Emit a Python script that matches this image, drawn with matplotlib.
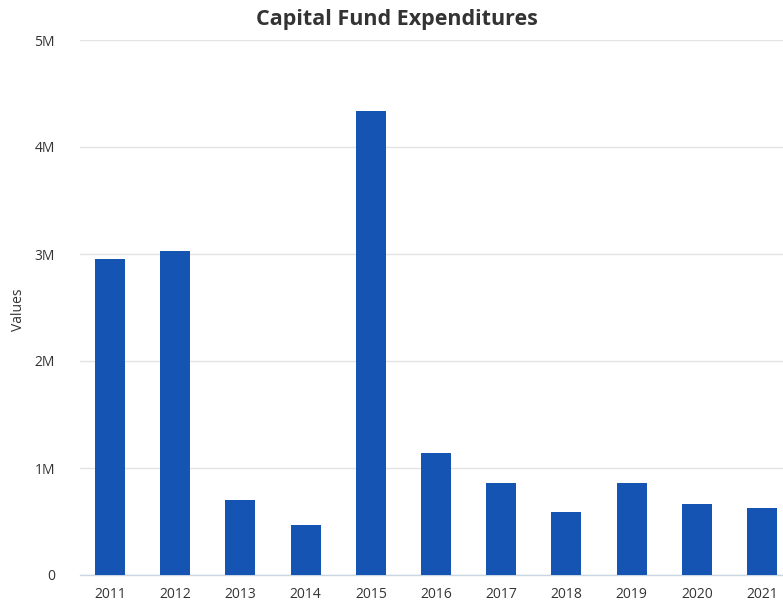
import matplotlib
matplotlib.use("Agg")
import matplotlib.pyplot as plt
from matplotlib.ticker import FuncFormatter

years = ["2011", "2012", "2013", "2014", "2015", "2016", "2017", "2018", "2019", "2020", "2021"]
values = [2953000, 3028000, 700000, 467000, 4336000, 1143000, 857000, 589000, 863000, 661000, 623000]
title = "Capital Fund Expenditures"
ylabel = "Values"

plt.rcParams['font.family'] = ['Open Sans', 'DejaVu Sans']

fig = plt.figure(figsize=(7.83, 6.07), dpi=100)
ax = fig.add_axes([80/783, 32/607, 1 - 80/783, (575-40)/607])

x = list(range(len(years)))
ax.bar(x, values, width=0.46, color="#1654B4", zorder=3)

ax.set_xlim(-0.46, 10.32)
ax.set_ylim(0, 5e6)
ax.set_yticks([0, 1e6, 2e6, 3e6, 4e6, 5e6])
ax.yaxis.set_major_formatter(FuncFormatter(lambda v, p: "0" if v == 0 else f"{int(v/1e6)}M"))
ax.set_xticks(x)
ax.set_xticklabels(years)

ax.grid(axis="y", color="#e3e3e3", linewidth=1, zorder=0)
for s in ["top", "right", "left"]:
    ax.spines[s].set_visible(False)
ax.spines["bottom"].set_color("#c9d6e3")
ax.spines["bottom"].set_linewidth(1)
ax.tick_params(axis="both", length=0, colors="#333333", labelsize=10)
ax.tick_params(axis="y", pad=18)
ax.tick_params(axis="x", pad=9)

fig.text(397/783, 1 - 20/607, title, ha="center", va="center", fontsize=15.5, fontweight="bold", color="#333333")
fig.text(18/783, 1 - 310/607, ylabel, ha="center", va="center", rotation=90, fontsize=10, color="#333333")

fig.savefig("out.png", dpi=100)
